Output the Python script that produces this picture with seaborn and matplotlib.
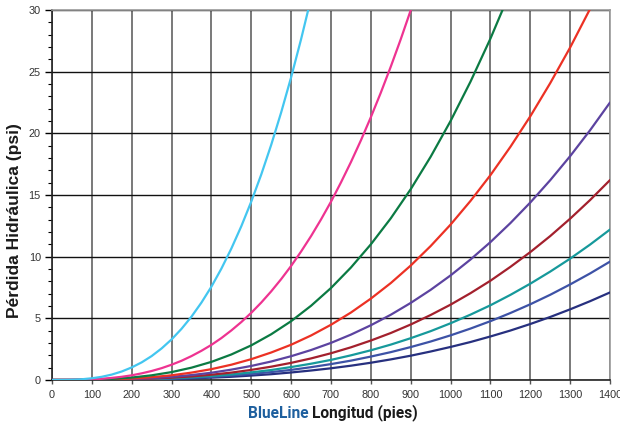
import matplotlib
matplotlib.use("Agg")
import matplotlib.pyplot as plt
import seaborn as sns
import numpy as np
import pandas as pd
from matplotlib.ticker import MultipleLocator

# longitud (pies), every 50; the two steepest curves read every 25
longitud = list(range(0, 1450, 50))
longitud_fino = list(range(0, 1450, 25))

# perdida hidraulica (psi)
cyan = [0, 0.00, 0.02, 0.06, 0.14, 0.26, 0.44, 0.69, 1.02, 1.43, 1.94, 2.56, 3.29, 4.15,
        5.14, 6.28, 7.57, 9.03, 10.66, 12.47, 14.47, 16.66, 19.07, 21.70, 24.55, 27.64, 30.96]
pink = [0, 0.00, 0.01, 0.02, 0.05, 0.10, 0.17, 0.26, 0.38, 0.54, 0.73, 0.96, 1.24, 1.56,
        1.94, 2.37, 2.85, 3.40, 4.02, 4.70, 5.45, 6.28, 7.19, 8.18, 9.25, 10.42, 11.67, 13.02,
        14.46, 16.02, 17.67, 19.43, 21.31, 23.30, 25.41, 27.63, 29.98, 32.46]
green = [0, 0.00, 0.03, 0.09, 0.20, 0.38, 0.64, 1.00, 1.47, 2.07, 2.81, 3.71, 4.77, 6.02,
         7.46, 9.12, 11.00, 13.11, 15.47, 18.10, 21.00, 24.19, 27.68, 31.50]
red = [0, 0.00, 0.02, 0.05, 0.12, 0.23, 0.38, 0.60, 0.88, 1.24, 1.69, 2.23, 2.86, 3.61,
       4.48, 5.47, 6.60, 7.86, 9.28, 10.86, 12.60, 14.52, 16.61, 18.90, 21.38, 24.07, 26.96, 30.09, 33.43]
purple = [0, 0.00, 0.01, 0.03, 0.08, 0.15, 0.26, 0.40, 0.59, 0.84, 1.14, 1.50, 1.93, 2.43,
          3.01, 3.68, 4.44, 5.29, 6.25, 7.31, 8.48, 9.77, 11.18, 12.72, 14.39, 16.20, 18.15, 20.25, 22.50]
darkred = [0, 0.00, 0.01, 0.02, 0.06, 0.11, 0.19, 0.29, 0.43, 0.60, 0.82, 1.08, 1.39, 1.75,
           2.17, 2.65, 3.20, 3.81, 4.50, 5.27, 6.11, 7.04, 8.05, 9.17, 10.37, 11.67, 13.08, 14.59, 16.21]
teal = [0, 0.00, 0.01, 0.02, 0.04, 0.08, 0.14, 0.22, 0.32, 0.45, 0.62, 0.81, 1.05, 1.32,
        1.63, 2.00, 2.41, 2.87, 3.39, 3.96, 4.60, 5.30, 6.06, 6.90, 7.81, 8.79, 9.84, 10.98, 12.20]
blue = [0, 0.00, 0.00, 0.01, 0.03, 0.06, 0.11, 0.17, 0.25, 0.36, 0.49, 0.64, 0.82, 1.04,
        1.29, 1.57, 1.90, 2.26, 2.67, 3.12, 3.62, 4.17, 4.77, 5.43, 6.14, 6.91, 7.75, 8.64, 9.60]
navy = [0, 0.00, 0.00, 0.01, 0.03, 0.05, 0.08, 0.13, 0.19, 0.26, 0.36, 0.47, 0.61, 0.77,
        0.95, 1.16, 1.40, 1.67, 1.97, 2.31, 2.68, 3.08, 3.53, 4.01, 4.54, 5.11, 5.73, 6.39, 7.10]

series = [
    (longitud, navy, "#27307f"),
    (longitud, blue, "#3d52a6"),
    (longitud, teal, "#16999b"),
    (longitud, darkred, "#a3202d"),
    (longitud, purple, "#5c43a0"),
    (longitud, red, "#ec3124"),
    (longitud, green, "#0b7a43"),
    (longitud_fino, pink, "#ee3391"),
    (longitud_fino, cyan, "#43c6f0"),
]

sns.set_style("white")
plt.rcParams['font.family'] = ['Liberation Sans', 'DejaVu Sans']

fig = plt.figure(figsize=(6.2, 4.28), dpi=100)
ax = fig.add_axes([52 / 620, 48 / 428, 558 / 620, 370 / 428])

for xs, vals, col in series:
    df = pd.DataFrame({"x": xs[:len(vals)], "y": vals})
    sns.lineplot(data=df, x="x", y="y", color=col, lw=1.6, ax=ax, zorder=3)

ax.set_xlim(0, 1400)
ax.set_ylim(0, 30)
ax.xaxis.set_major_locator(MultipleLocator(100))
ax.yaxis.set_major_locator(MultipleLocator(5))
ax.yaxis.set_minor_locator(MultipleLocator(1))
ax.grid(axis="x", color="#555555", lw=1.1, zorder=1)
ax.grid(axis="y", color="#111111", lw=1.0, zorder=1)
ax.tick_params(axis="y", which="major", length=5, width=1, color="black",
               labelsize=7.8, pad=3, direction="out", left=True, labelcolor="#333333")
ax.tick_params(axis="y", which="minor", length=3, width=0.8, color="black", left=True)
ax.tick_params(axis="x", which="major", length=3, width=1, color="#555555",
               labelsize=7.8, pad=4, direction="out", bottom=True, labelcolor="#333333")
for s in ["top", "right"]:
    ax.spines[s].set_color("#999999")
    ax.spines[s].set_linewidth(1.2)
for s in ["left", "bottom"]:
    ax.spines[s].set_color("#222222")
    ax.spines[s].set_linewidth(1.2)
ax.set_xlabel("")
ax.set_ylabel("")

fig.text(15 / 620, 1 - 221 / 428, "Pérdida Hidráulica (psi)", rotation=90,
         ha="center", va="center", fontsize=12.5, fontweight="bold", color="#1a1a1a")
fig.text(309 / 620, 1 - 413 / 428, "BlueLine", ha="right", va="center",
         fontsize=11.2, fontweight="bold", family=["Roboto", "DejaVu Sans"], color="#1d5f9e")
fig.text(312 / 620, 1 - 413 / 428, "Longitud (pies)", ha="left", va="center",
         fontsize=11.2, fontweight="bold", family=["Roboto", "DejaVu Sans"], color="#1a1a1a")

plt.savefig("out.png", dpi=100)
